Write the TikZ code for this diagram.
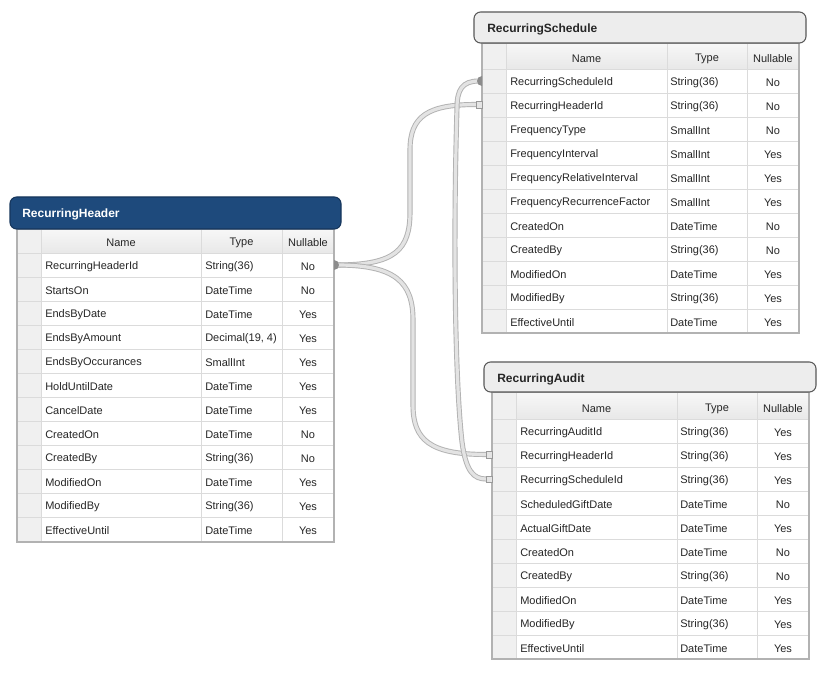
\documentclass[tikz,border=0pt]{standalone}
\usepackage{fontspec}
\setmainfont{Liberation Sans}
\begin{document}
\begin{tikzpicture}[x=0.75pt,y=-0.75pt,
  cell/.style={inner sep=0pt,yshift=-1.1pt,font=\fontsize{8.25}{10}\selectfont,text=black!85},
  celll/.style={cell,anchor=west},
  ttl/.style={inner sep=0pt,yshift=-1.1pt,anchor=west,font=\fontsize{9}{11}\selectfont\bfseries},
  grid/.style={draw=black!14,line width=0.6pt},
  frame/.style={draw=black!30,line width=1.4pt},
  gut/.style={fill=black!6},
  hdr/.style={top color=black!3,bottom color=black!9},
  conn/.style={draw=black!30,double=black!11,double distance=2.4pt,line width=0.7pt},
  marker/.style={fill=black!45},
  sq/.style={fill=black!10,draw=black!40,line width=0.6pt}]
\useasboundingbox (0,0) rectangle (826,673);
\fill[white] (0,0) rectangle (826,673);

% ================= RecurringHeader =================
\fill[white] (17,229) rectangle (334,541);
\fill[gut] (17,229) rectangle (41,541);
\fill[hdr] (41,229) rectangle (334,253);
\foreach \k in {1,...,12}{\draw[grid] (17,253+24*\k-24) -- (334,253+24*\k-24);}
\draw[grid] (41,229) -- (41,541);
\draw[grid] (201,229) -- (201,541);
\draw[grid] (282,229) -- (282,541);
\draw[frame] (17,229) rectangle (334,542);
\draw[fill={rgb,255:red,30;green,74;blue,124},draw={rgb,255:red,22;green,54;blue,92},line width=0.8pt,rounded corners=5pt] (10,197) rectangle (341,229);
\node[ttl,text=white] (rh-title) at (22,213) {RecurringHeader};
\node[cell] (rh-hn) at (121,241) {Name};
\node[cell] (rh-ht) at (241.5,241) {Type};
\node[cell] (rh-hu) at (308,241) {Nullable};
\foreach \n/\t/\u [count=\i] in {RecurringHeaderId/String(36)/No,StartsOn/DateTime/No,EndsByDate/DateTime/Yes,EndsByAmount/{Decimal(19, 4)}/Yes,EndsByOccurances/SmallInt/Yes,HoldUntilDate/DateTime/Yes,CancelDate/DateTime/Yes,CreatedOn/DateTime/No,CreatedBy/String(36)/No,ModifiedOn/DateTime/Yes,ModifiedBy/String(36)/Yes,EffectiveUntil/DateTime/Yes}{
  \node[celll] (rh-n\i) at (45,241+24*\i) {\n};
  \node[celll] (rh-t\i) at (205,241+24*\i) {\t};
  \node[cell] (rh-u\i) at (308,241+24*\i) {\u};
}

% ================= RecurringSchedule =================
\fill[white] (482,43) rectangle (799,333);
\fill[gut] (482,43) rectangle (506,333);
\fill[hdr] (506,43) rectangle (799,69);
\foreach \k in {1,...,11}{\draw[grid] (482,69+24*\k-24) -- (799,69+24*\k-24);}
\draw[grid] (506,43) -- (506,333);
\draw[grid] (667,43) -- (667,333);
\draw[grid] (747,43) -- (747,333);
\draw[frame] (482,43) rectangle (799,333);
\draw[fill=black!7,draw=black!65,line width=0.8pt,rounded corners=5pt] (474,12) rectangle (806,43);
\node[ttl,text=black!85] (rs-title) at (487,28) {RecurringSchedule};
\node[cell] (rs-hn) at (586.5,57) {Name};
\node[cell] (rs-ht) at (707,57) {Type};
\node[cell] (rs-hu) at (773,57) {Nullable};
\foreach \n/\t/\u [count=\i] in {RecurringScheduleId/String(36)/No,RecurringHeaderId/String(36)/No,FrequencyType/SmallInt/No,FrequencyInterval/SmallInt/Yes,FrequencyRelativeInterval/SmallInt/Yes,FrequencyRecurrenceFactor/SmallInt/Yes,CreatedOn/DateTime/No,CreatedBy/String(36)/No,ModifiedOn/DateTime/Yes,ModifiedBy/String(36)/Yes,EffectiveUntil/DateTime/Yes}{
  \node[celll] (rs-n\i) at (510,57+24*\i) {\n};
  \node[celll] (rs-t\i) at (670,57+24*\i) {\t};
  \node[cell] (rs-u\i) at (773,57+24*\i) {\u};
}

% ================= RecurringAudit =================
\fill[white] (492,392) rectangle (809,659);
\fill[gut] (492,392) rectangle (516,659);
\fill[hdr] (516,392) rectangle (809,419);
\foreach \k in {1,...,10}{\draw[grid] (492,419+24*\k-24) -- (809,419+24*\k-24);}
\draw[grid] (516,392) -- (516,659);
\draw[grid] (677,392) -- (677,659);
\draw[grid] (757,392) -- (757,659);
\draw[frame] (492,392) rectangle (809,659);
\draw[fill=black!7,draw=black!65,line width=0.8pt,rounded corners=5pt] (484,362) rectangle (816,392);
\node[ttl,text=black!85] (ra-title) at (497,378) {RecurringAudit};
\node[cell] (ra-hn) at (596.5,407) {Name};
\node[cell] (ra-ht) at (717,407) {Type};
\node[cell] (ra-hu) at (783,407) {Nullable};
\foreach \n/\t/\u [count=\i] in {RecurringAuditId/String(36)/Yes,RecurringHeaderId/String(36)/Yes,RecurringScheduleId/String(36)/Yes,ScheduledGiftDate/DateTime/No,ActualGiftDate/DateTime/Yes,CreatedOn/DateTime/No,CreatedBy/String(36)/No,ModifiedOn/DateTime/Yes,ModifiedBy/String(36)/Yes,EffectiveUntil/DateTime/Yes}{
  \node[celll] (ra-n\i) at (520,407+24*\i) {\n};
  \node[celll] (ra-t\i) at (680,407+24*\i) {\t};
  \node[cell] (ra-u\i) at (783,407+24*\i) {\u};
}

% ================= Connectors =================
\coordinate (rh-pk) at (337,265);
\coordinate (rs-fk) at (476,104.5);
\coordinate (ra-fk1) at (486,454.5);
\coordinate (rs-pk) at (479,81);
\coordinate (ra-fk2) at (486,479);

\draw[conn] (rh-pk) .. controls (395,265) and (410,250) .. (410,212) -- (410,150) .. controls (410,116) and (428,104.5) .. (rs-fk);
\draw[conn] (rh-pk) .. controls (395,265) and (413,282) .. (413,320) -- (413,405) .. controls (413,440) and (430,454.5) .. (ra-fk1);
\draw[conn] (rs-pk) .. controls (462,81) and (457,90) .. (457,108) .. controls (453,240) and (455,380) .. (462,442) .. controls (466,472) and (474,479) .. (ra-fk2);

\fill[marker] (334,260) arc[start angle=-90,end angle=90,radius=5] -- cycle;
\fill[marker] (482,76) arc[start angle=-90,end angle=-270,radius=5] -- cycle;
\draw[sq] (476,101) rectangle (482,108);
\draw[sq] (486,451) rectangle (492,458);
\draw[sq] (486,476) rectangle (492,482);
\end{tikzpicture}
\end{document}
